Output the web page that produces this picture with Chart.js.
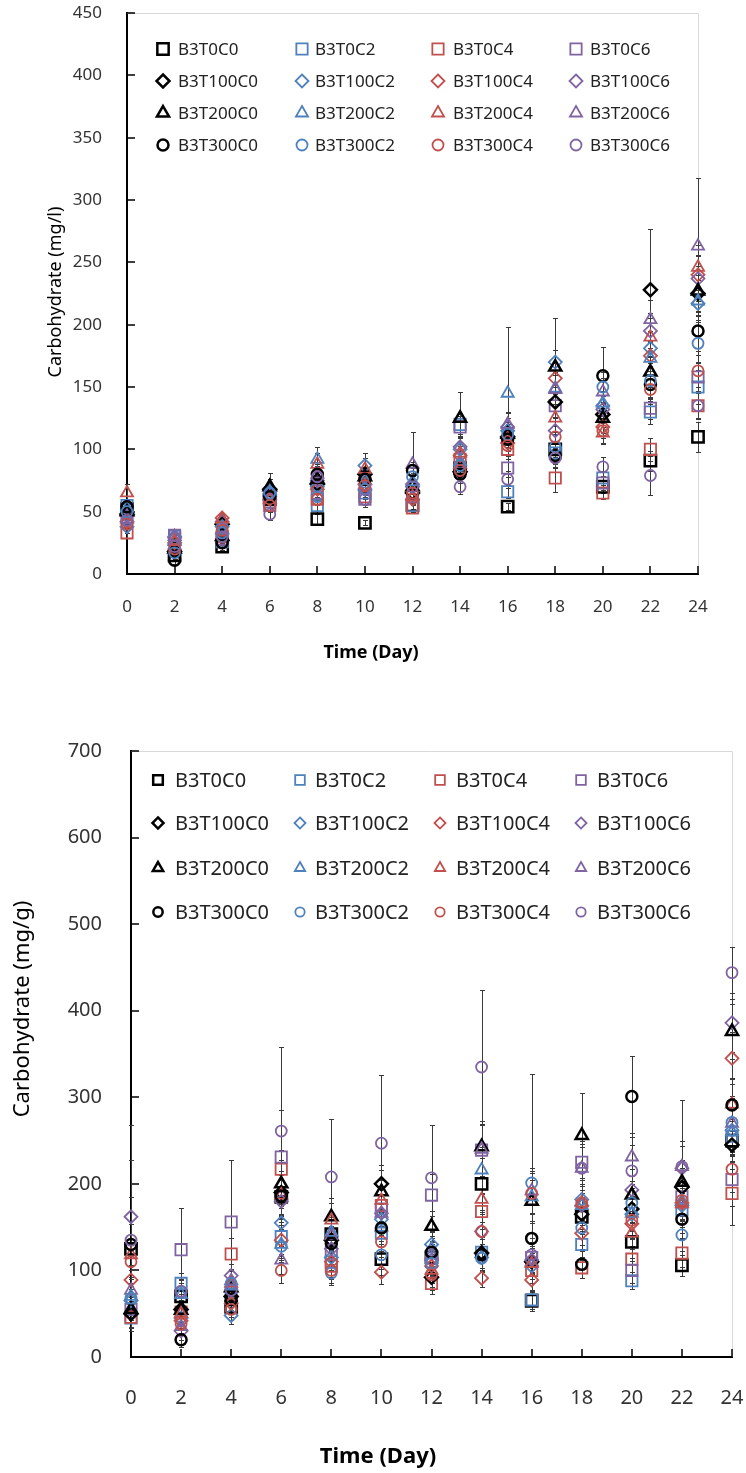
<!DOCTYPE html>
<html>
<head>
<meta charset="utf-8">
<script src="https://cdn.jsdelivr.net/npm/chart.js@4.4.1/dist/chart.umd.min.js"></script>
<style>
  body { margin: 0; background: #fff; }
  #wrap { position: relative; width: 746px; height: 1473px; }
  canvas { position: absolute; left: 0; }
  #chartL { top: 0; }
  #chartG { top: 700px; }
</style>
</head>
<body>
<div id="wrap">
  <canvas id="chartL" width="746" height="700"></canvas>
  <canvas id="chartG" width="746" height="773"></canvas>
</div>
<script>
const FONT = '"Noto Sans", "DejaVu Sans", sans-serif';

const days = [0, 2, 4, 6, 8, 10, 12, 14, 16, 18, 20, 22, 24];

const seriesNames = [
    'B3T0C0', 'B3T0C2', 'B3T0C4', 'B3T0C6',
    'B3T100C0', 'B3T100C2', 'B3T100C4', 'B3T100C6',
    'B3T200C0', 'B3T200C2', 'B3T200C4', 'B3T200C6',
    'B3T300C0', 'B3T300C2', 'B3T300C4', 'B3T300C6'
];

// marker shape follows the T level, colour follows the C level
const shapes = ['rect', 'rectRot', 'triangle', 'circle'];
const colours = ['#000000', '#4F81BD', '#C0504D', '#8064A2'];

const yTicksL = [0, 50, 100, 150, 200, 250, 300, 350, 400, 450];
const yTicksG = [0, 100, 200, 300, 400, 500, 600, 700];

// Carbohydrate (mg/l)
const mgl_T0C0   = [52, 15, 22, 60, 44, 41, 55, 85, 54, 100, 70, 91, 110];
const mgl_T0C2   = [55, 30, 26, 63, 55, 65, 55, 120, 66, 97, 77, 130, 150];
const mgl_T0C4   = [33, 28, 30, 55, 60, 62, 53, 92, 100, 77, 65, 100, 135];
const mgl_T0C6   = [45, 31, 28, 58, 65, 60, 62, 118, 85, 135, 73, 133, 158];
const mgl_T100C0 = [48, 18, 40, 68, 72, 80, 65, 82, 110, 138, 128, 228, 225];
const mgl_T100C2 = [38, 30, 38, 64, 70, 87, 70, 100, 115, 170, 135, 181, 217];
const mgl_T100C4 = [42, 25, 45, 60, 68, 72, 60, 95, 105, 157, 118, 175, 240];
const mgl_T100C6 = [47, 29, 42, 62, 75, 68, 72, 102, 118, 115, 132, 195, 237];
const mgl_T200C0 = [50, 20, 30, 70, 76, 78, 70, 125, 112, 166, 125, 162, 227];
const mgl_T200C2 = [53, 27, 35, 66, 92, 75, 74, 90, 145, 149, 137, 173, 219];
const mgl_T200C4 = [65, 26, 44, 60, 88, 84, 62, 97, 108, 125, 113, 190, 246];
const mgl_T200C6 = [44, 30, 36, 62, 80, 70, 88, 88, 120, 148, 146, 204, 263];
const mgl_T300C0 = [54, 11, 25, 62, 80, 76, 83, 80, 108, 95, 159, 152, 195];
const mgl_T300C2 = [50, 17, 33, 65, 62, 68, 78, 87, 112, 102, 150, 155, 185];
const mgl_T300C4 = [40, 20, 35, 55, 60, 71, 65, 83, 103, 110, 115, 148, 163];
const mgl_T300C6 = [43, 22, 30, 48, 78, 60, 70, 70, 76, 93, 86, 79, 135];

const mgl_T0C0_sd   = [4, 3, 3, 5, 4, 2, 3, 6, 3, 6, 5, 8, 12];
const mgl_T0C2_sd   = [5, 3, 3, 5, 6, 5, 4, 8, 5, 7, 6, 10, 14];
const mgl_T0C4_sd   = [4, 3, 4, 4, 5, 6, 3, 7, 8, 11, 5, 9, 10];
const mgl_T0C6_sd   = [5, 2, 3, 5, 6, 5, 5, 9, 7, 9, 6, 9, 11];
const mgl_T100C0_sd = [6, 4, 4, 8, 7, 6, 5, 7, 9, 12, 10, 49, 15];
const mgl_T100C2_sd = [5, 3, 4, 6, 8, 10, 6, 10, 10, 35, 12, 14, 13];
const mgl_T100C4_sd = [4, 3, 3, 5, 6, 7, 5, 8, 9, 12, 9, 12, 16];
const mgl_T100C6_sd = [5, 3, 4, 6, 7, 6, 7, 9, 11, 10, 11, 14, 18];
const mgl_T200C0_sd = [6, 4, 3, 11, 8, 7, 6, 21, 8, 14, 12, 12, 20];
const mgl_T200C2_sd = [6, 3, 4, 7, 10, 8, 7, 7, 53, 13, 10, 13, 17];
const mgl_T200C4_sd = [7, 3, 5, 5, 9, 9, 6, 9, 9, 11, 9, 15, 18];
const mgl_T200C6_sd = [5, 3, 4, 6, 8, 7, 26, 8, 10, 12, 11, 16, 55];
const mgl_T300C0_sd = [6, 3, 3, 6, 7, 8, 7, 7, 9, 9, 23, 13, 16];
const mgl_T300C2_sd = [5, 3, 4, 6, 6, 6, 7, 8, 10, 10, 12, 14, 15];
const mgl_T300C4_sd = [4, 3, 4, 5, 5, 7, 6, 7, 8, 9, 10, 12, 13];
const mgl_T300C6_sd = [5, 3, 3, 5, 7, 6, 6, 6, 7, 8, 8, 16, 11];

// Carbohydrate (mg/g)
const mgg_T0C0   = [125, 70, 58, 185, 142, 113, 115, 200, 65, 162, 133, 106, 250];
const mgg_T0C2   = [45, 85, 75, 139, 110, 143, 110, 121, 66, 130, 88, 170, 255];
const mgg_T0C4   = [46, 52, 119, 217, 105, 175, 85, 168, 100, 103, 113, 120, 189];
const mgg_T0C6   = [55, 124, 156, 231, 120, 171, 187, 239, 115, 225, 100, 185, 205];
const mgg_T100C0 = [50, 55, 70, 190, 135, 200, 92, 120, 110, 165, 171, 196, 245];
const mgg_T100C2 = [65, 45, 48, 155, 115, 159, 130, 115, 105, 182, 165, 175, 262];
const mgg_T100C4 = [89, 42, 62, 135, 110, 98, 105, 91, 89, 143, 154, 178, 345];
const mgg_T100C6 = [162, 30, 94, 180, 125, 166, 112, 145, 112, 175, 193, 218, 386];
const mgg_T200C0 = [55, 54, 80, 200, 162, 191, 151, 243, 180, 256, 187, 202, 376];
const mgg_T200C2 = [70, 72, 82, 130, 144, 150, 125, 216, 185, 175, 166, 180, 260];
const mgg_T200C4 = [118, 50, 85, 187, 158, 181, 100, 182, 108, 178, 143, 177, 292];
const mgg_T200C6 = [77, 35, 88, 112, 140, 166, 118, 240, 192, 218, 231, 220, 270];
const mgg_T300C0 = [130, 20, 66, 186, 131, 149, 121, 118, 137, 107, 301, 159, 291];
const mgg_T300C2 = [68, 75, 85, 128, 97, 118, 108, 114, 201, 149, 178, 141, 271];
const mgg_T300C4 = [110, 38, 55, 100, 100, 133, 95, 145, 189, 178, 158, 181, 217];
const mgg_T300C6 = [135, 76, 77, 261, 208, 247, 207, 335, 118, 218, 215, 220, 444];

const mgg_T0C0_sd   = [60, 20, 12, 25, 20, 18, 15, 30, 12, 20, 22, 12, 25];
const mgg_T0C2_sd   = [15, 12, 12, 20, 18, 20, 15, 18, 10, 18, 10, 20, 22];
const mgg_T0C4_sd   = [12, 14, 18, 22, 15, 20, 12, 20, 14, 12, 15, 16, 37];
const mgg_T0C6_sd   = [14, 48, 71, 54, 20, 25, 24, 30, 18, 25, 14, 22, 30];
const mgg_T100C0_sd = [15, 14, 12, 25, 20, 22, 15, 20, 16, 20, 24, 22, 28];
const mgg_T100C2_sd = [14, 12, 10, 20, 16, 18, 14, 16, 15, 22, 20, 20, 25];
const mgg_T100C4_sd = [16, 10, 12, 18, 15, 14, 14, 10, 12, 18, 18, 20, 30];
const mgg_T100C6_sd = [106, 10, 14, 24, 18, 22, 16, 22, 16, 22, 24, 26, 34];
const mgg_T200C0_sd = [14, 16, 14, 28, 22, 25, 18, 30, 25, 49, 22, 25, 32];
const mgg_T200C2_sd = [16, 14, 12, 18, 20, 20, 15, 26, 30, 22, 20, 22, 28];
const mgg_T200C4_sd = [18, 12, 14, 24, 20, 24, 14, 26, 18, 20, 18, 20, 30];
const mgg_T200C6_sd = [15, 10, 14, 16, 18, 20, 16, 28, 26, 25, 28, 77, 32];
const mgg_T300C0_sd = [24, 8, 12, 25, 20, 22, 16, 18, 20, 16, 47, 22, 30];
const mgg_T300C2_sd = [14, 14, 14, 18, 14, 16, 15, 16, 126, 20, 22, 18, 28];
const mgg_T300C4_sd = [20, 12, 12, 14, 14, 18, 14, 20, 24, 22, 20, 22, 26];
const mgg_T300C6_sd = [92, 14, 14, 97, 67, 79, 61, 89, 20, 28, 30, 30, 30];

const mglValues = [mgl_T0C0, mgl_T0C2, mgl_T0C4, mgl_T0C6, mgl_T100C0, mgl_T100C2, mgl_T100C4, mgl_T100C6,
    mgl_T200C0, mgl_T200C2, mgl_T200C4, mgl_T200C6, mgl_T300C0, mgl_T300C2, mgl_T300C4, mgl_T300C6];
const mglErrors = [mgl_T0C0_sd, mgl_T0C2_sd, mgl_T0C4_sd, mgl_T0C6_sd, mgl_T100C0_sd, mgl_T100C2_sd, mgl_T100C4_sd, mgl_T100C6_sd,
    mgl_T200C0_sd, mgl_T200C2_sd, mgl_T200C4_sd, mgl_T200C6_sd, mgl_T300C0_sd, mgl_T300C2_sd, mgl_T300C4_sd, mgl_T300C6_sd];
const mggValues = [mgg_T0C0, mgg_T0C2, mgg_T0C4, mgg_T0C6, mgg_T100C0, mgg_T100C2, mgg_T100C4, mgg_T100C6,
    mgg_T200C0, mgg_T200C2, mgg_T200C4, mgg_T200C6, mgg_T300C0, mgg_T300C2, mgg_T300C4, mgg_T300C6];
const mggErrors = [mgg_T0C0_sd, mgg_T0C2_sd, mgg_T0C4_sd, mgg_T0C6_sd, mgg_T100C0_sd, mgg_T100C2_sd, mgg_T100C4_sd, mgg_T100C6_sd,
    mgg_T200C0_sd, mgg_T200C2_sd, mgg_T200C4_sd, mgg_T200C6_sd, mgg_T300C0_sd, mgg_T300C2_sd, mgg_T300C4_sd, mgg_T300C6_sd];

const markerRadius = { rect: 8, rectRot: 6.5, triangle: 7, circle: 5.5 };

function drawMarker(ctx, shape, x, y, r) {
    ctx.beginPath();
    if (shape === 'circle') {
        ctx.arc(x, y, r, 0, Math.PI * 2);
    } else if (shape === 'rect') {
        const s = r * Math.SQRT1_2;
        ctx.rect(x - s, y - s, 2 * s, 2 * s);
    } else if (shape === 'rectRot') {
        ctx.moveTo(x, y - r); ctx.lineTo(x + r, y); ctx.lineTo(x, y + r); ctx.lineTo(x - r, y);
        ctx.closePath();
    } else {
        const h = r * Math.sin(Math.PI / 3);
        ctx.moveTo(x, y - r); ctx.lineTo(x + h, y + r / 2); ctx.lineTo(x - h, y + r / 2);
        ctx.closePath();
    }
    ctx.stroke();
}

function makeDatasets(values, errors) {
    return seriesNames.map((name, i) => {
        const shape = shapes[Math.floor(i / 4)];
        return {
            label: name,
            data: days.map((d, j) => ({ x: d, y: values[i][j], sd: errors[i][j] })),
            pointStyle: shape,
            pointRadius: markerRadius[shape],
            pointHoverRadius: markerRadius[shape],
            pointBorderColor: colours[i % 4],
            pointBackgroundColor: 'rgba(0,0,0,0)',
            pointBorderWidth: i % 4 === 0 ? 2.5 : 1.8,
            showLine: false,
            clip: false,
            order: seriesNames.length - i
        };
    });
}

function makeDecor(look) {
    return {
        id: 'decor',
        beforeDatasetsDraw(chart) {
            const { ctx, chartArea: a, scales: { x, y } } = chart;
            ctx.save();
            // thin frame on top and right
            ctx.strokeStyle = '#d9d9d9';
            ctx.lineWidth = 1;
            ctx.beginPath();
            ctx.moveTo(a.left, a.top + 0.5); ctx.lineTo(a.right + 0.5, a.top + 0.5); ctx.lineTo(a.right + 0.5, a.bottom);
            ctx.stroke();

            // tick marks pointing into the plot
            ctx.strokeStyle = '#000';
            ctx.lineWidth = 1.5;
            ctx.beginPath();
            x.ticks.forEach(t => {
                const px = Math.round(x.getPixelForValue(t.value));
                ctx.moveTo(px, a.bottom); ctx.lineTo(px, a.bottom - look.tickLen);
            });
            y.ticks.forEach(t => {
                const py = Math.round(y.getPixelForValue(t.value));
                ctx.moveTo(a.left, py); ctx.lineTo(a.left + look.tickLen, py);
            });
            ctx.stroke();

            // error bars
            ctx.strokeStyle = '#3a3a3a';
            ctx.lineWidth = 1;
            chart.data.datasets.forEach(ds => {
                ds.data.forEach(p => {
                    const px = Math.round(x.getPixelForValue(p.x)) + 0.5;
                    const top = Math.round(y.getPixelForValue(p.y + p.sd)) + 0.5;
                    const bot = Math.round(y.getPixelForValue(Math.max(p.y - p.sd, 0))) + 0.5;
                    ctx.beginPath();
                    ctx.moveTo(px, top); ctx.lineTo(px, bot);
                    ctx.moveTo(px - 2.5, top); ctx.lineTo(px + 2.5, top);
                    ctx.moveTo(px - 2.5, bot); ctx.lineTo(px + 2.5, bot);
                    ctx.stroke();
                });
            });
            ctx.restore();
        },
        afterDraw(chart) {
            const ctx = chart.ctx;
            const lg = look.legend;
            ctx.save();
            ctx.textBaseline = 'middle';
            ctx.textAlign = 'left';
            ctx.font = `${lg.size}px ${FONT}`;
            seriesNames.forEach((name, i) => {
                const row = Math.floor(i / 4), col = i % 4;
                const shape = shapes[row];
                ctx.strokeStyle = colours[col];
                ctx.lineWidth = col === 0 ? 2.5 : 1.8;
                drawMarker(ctx, shape, lg.cols[col], lg.rows[row], markerRadius[shape] * lg.scale);
                ctx.fillStyle = '#222';
                ctx.fillText(name, lg.textX[col], lg.rows[row] + 1);
            });

            ctx.fillStyle = '#000';
            ctx.textAlign = 'center';
            ctx.font = `bold ${look.xTitle.size}px ${FONT}`;
            ctx.fillText(look.xTitle.text, look.xTitle.x, look.xTitle.y);

            ctx.font = `${look.yTitle.size}px ${FONT}`;
            ctx.translate(look.yTitle.x, look.yTitle.y);
            ctx.rotate(-Math.PI / 2);
            ctx.fillText(look.yTitle.text, 0, 0);
            ctx.restore();
        }
    };
}

function buildChart(id, values, errors, yTicks, look) {
    return new Chart(document.getElementById(id), {
        type: 'scatter',
        data: { datasets: makeDatasets(values, errors) },
        options: {
            responsive: false,
            animation: false,
            layout: { padding: look.padding },
            plugins: { legend: { display: false }, tooltip: { enabled: false } },
            scales: {
                x: {
                    type: 'linear',
                    min: days[0], max: days[days.length - 1],
                    afterFit: s => { s.height = look.xHeight; s.paddingLeft = 0; s.paddingRight = 0; },
                    grid: { display: false, drawTicks: false },
                    border: { color: '#000', width: 2 },
                    ticks: { stepSize: days[1] - days[0], autoSkip: false, padding: look.xPad, color: '#333',
                             font: { family: FONT, size: look.tick } }
                },
                y: {
                    min: yTicks[0], max: yTicks[yTicks.length - 1],
                    afterFit: s => { s.width = look.yWidth; s.paddingTop = 0; s.paddingBottom = 0; },
                    grid: { display: false, drawTicks: false },
                    border: { color: '#000', width: 2 },
                    ticks: { stepSize: yTicks[1] - yTicks[0], padding: look.yPad, color: '#333',
                             font: { family: FONT, size: look.tick } }
                }
            }
        },
        plugins: [makeDecor(look)]
    });
}

buildChart('chartL', mglValues, mglErrors, yTicksL, {
    padding: { left: 0, right: 48, top: 13, bottom: 26 },
    xHeight: 100, yWidth: 127, xPad: 23, yPad: 25, tick: 17, tickLen: 8,
    legend: { cols: [163, 302, 438, 576], textX: [178, 315, 453, 590], rows: [49, 81, 113, 145], size: 17, scale: 1 },
    xTitle: { text: 'Time (Day)', x: 371, y: 653, size: 18 },
    yTitle: { text: 'Carbohydrate (mg/l)', x: 56, y: 292, size: 18 }
});

buildChart('chartG', mggValues, mggErrors, yTicksG, {
    padding: { left: 0, right: 14, top: 51, bottom: 16 },
    xHeight: 100, yWidth: 131, xPad: 29, yPad: 29, tick: 20, tickLen: 8,
    legend: { cols: [158, 300, 440, 581], textX: [175, 315, 456, 597], rows: [80, 123, 168, 212], size: 20, scale: 0.85 },
    xTitle: { text: 'Time (Day)', x: 378, y: 757, size: 22 },
    yTitle: { text: 'Carbohydrate (mg/g)', x: 23, y: 309, size: 22 }
});
</script>
</body>
</html>
